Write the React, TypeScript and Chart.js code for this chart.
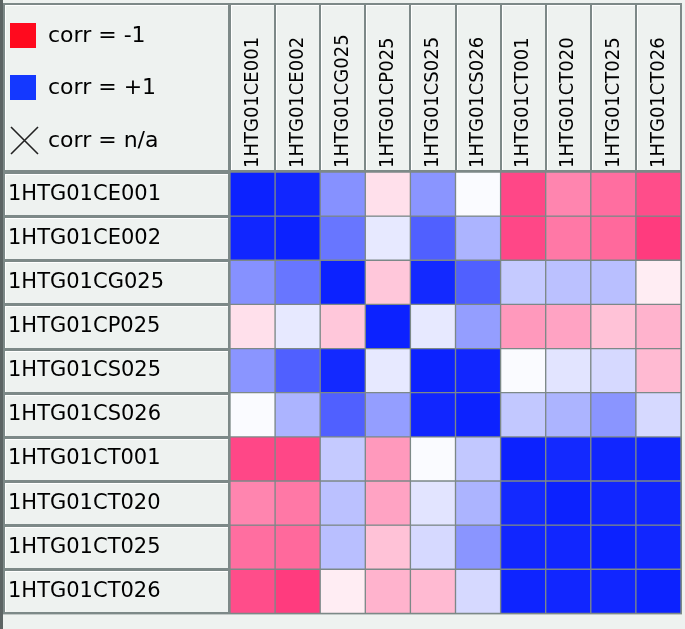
import React, { useEffect, useRef } from 'react';
import { Chart, registerables } from 'chart.js';

Chart.register(...registerables);

// ---- data ----
const variables = [
  '1HTG01CE001', '1HTG01CE002', '1HTG01CG025', '1HTG01CP025', '1HTG01CS025',
  '1HTG01CS026', '1HTG01CT001', '1HTG01CT020', '1HTG01CT025', '1HTG01CT026',
];

const corrCE001 = [1.0, 0.98, 0.5, -0.12, 0.48, 0.02, -0.72, -0.48, -0.57, -0.7];
const corrCE002 = [0.98, 1.0, 0.62, 0.1, 0.72, 0.34, -0.72, -0.53, -0.59, -0.77];
const corrCG025 = [0.5, 0.62, 1.0, -0.22, 0.97, 0.72, 0.24, 0.28, 0.29, -0.07];
const corrCP025 = [-0.12, 0.1, -0.22, 1.0, 0.1, 0.44, -0.4, -0.36, -0.24, -0.3];
const corrCS025 = [0.48, 0.72, 0.97, 0.1, 1.0, 0.98, 0.02, 0.12, 0.17, -0.27];
const corrCS026 = [0.02, 0.34, 0.72, 0.44, 0.98, 1.0, 0.25, 0.34, 0.48, 0.17];
const corrCT001 = [-0.72, -0.72, 0.24, -0.4, 0.02, 0.25, 1.0, 0.97, 0.98, 0.99];
const corrCT020 = [-0.48, -0.53, 0.28, -0.36, 0.12, 0.34, 0.97, 1.0, 0.98, 0.98];
const corrCT025 = [-0.57, -0.59, 0.29, -0.24, 0.17, 0.48, 0.98, 0.98, 1.0, 0.98];
const corrCT026 = [-0.7, -0.77, -0.07, -0.3, -0.27, 0.17, 0.99, 0.98, 0.98, 1.0];

const corrRows = [
  corrCE001, corrCE002, corrCG025, corrCP025, corrCS025,
  corrCS026, corrCT001, corrCT020, corrCT025, corrCT026,
];

const legendLabels = ['corr = -1', 'corr = +1', 'corr = n/a'];

// ---- styles ----
const LIGHT = '#eef2f0';
const GRAY = '#7d8988';
const DARK = '#5c6464';
const LEGEND_RED = '#ff0a1e';
const LEGEND_BLUE = '#1438ff';
const POS_BASE = [12, 34, 255];
const NEG_BASE = [255, 0, 88];

function corrColor(v: number): string {
  const t = Math.min(1, Math.abs(v));
  const base = v >= 0 ? POS_BASE : NEG_BASE;
  const c = base.map((b) => Math.round(255 * (1 - t) + b * t));
  return `rgb(${c[0]},${c[1]},${c[2]})`;
}

const framePlugin = {
  id: 'frame',
  beforeDraw(chart: any) {
    const { ctx, width, height, chartArea } = chart;
    const xs = chart.scales.x;
    const rs = chart.scales.rows;
    const n = variables.length;
    const cw = chartArea.width / n;
    const ch = chartArea.height / n;
    ctx.save();
    ctx.fillStyle = LIGHT;
    ctx.fillRect(0, 0, width, height);
    ctx.fillStyle = GRAY;
    ctx.fillRect(3, 3, chartArea.right - 2, chartArea.bottom - 2);
    ctx.fillStyle = DARK;
    ctx.fillRect(0, 0, 3, height);

    const box = (l: number, t: number, r: number, b: number) => {
      ctx.fillStyle = LIGHT;
      ctx.fillRect(l, t, r - l, b - t);
      ctx.fillStyle = '#ffffff';
      ctx.fillRect(l, t, r - l, 1);
      ctx.fillRect(l, t, 1, b - t);
    };
    // legend corner box
    box(5, 5, chartArea.left - 2, chartArea.top - 2);
    // column header boxes
    for (let i = 0; i < n; i++) {
      const cx = xs.getPixelForValue(i);
      box(Math.round(cx - cw / 2 + 1), 5, Math.round(cx + cw / 2 - 1), chartArea.top - 2);
    }
    // row label boxes
    for (let i = 0; i < n; i++) {
      const cy = rs.getPixelForValue(i);
      box(5, Math.round(cy - ch / 2 + 2), chartArea.left - 2, Math.round(cy + ch / 2 - 1));
    }

    // legend
    const ys = [36, 88, 141];
    ctx.fillStyle = LEGEND_RED;
    ctx.fillRect(10, ys[0] - 13, 26, 25);
    ctx.fillStyle = LEGEND_BLUE;
    ctx.fillRect(10, ys[1] - 13, 26, 25);
    ctx.strokeStyle = '#222';
    ctx.lineWidth = 1.6;
    ctx.beginPath();
    ctx.moveTo(11, ys[2] - 14);
    ctx.lineTo(38, ys[2] + 13);
    ctx.moveTo(38, ys[2] - 14);
    ctx.lineTo(11, ys[2] + 13);
    ctx.stroke();
    ctx.fillStyle = '#000';
    ctx.font = '22px "DejaVu Sans"';
    ctx.textBaseline = 'middle';
    ctx.textAlign = 'left';
    legendLabels.forEach((lab, i) => ctx.fillText(lab, 48, ys[i]));
    ctx.restore();
  },
};

export default function App() {
  const ref = useRef<HTMLCanvasElement | null>(null);

  useEffect(() => {
    document.body.style.margin = '0';
    const canvas = ref.current;
    if (!canvas) return;
    const datasets = corrRows.map((row, r) => ({
      label: variables[r],
      data: row.map(() => [r, r + 1]),
      backgroundColor: row.map((v) => corrColor(v)),
      borderColor: GRAY,
      borderWidth: 1,
      borderSkipped: false,
      grouped: false,
      categoryPercentage: 1,
      barPercentage: 1,
    }));
    const chart = new Chart(canvas, {
      type: 'bar',
      data: { labels: variables, datasets: datasets as any },
      plugins: [framePlugin],
      options: {
        responsive: false,
        animation: false,
        layout: { padding: { left: 8, right: 4, top: 0, bottom: 3 } },
        plugins: { legend: { display: false }, tooltip: { enabled: false } },
        scales: {
          x: {
            type: 'category',
            position: 'top',
            offset: true,
            grid: { display: false, drawTicks: false },
            border: { display: false },
            ticks: {
              minRotation: 90,
              maxRotation: 90,
              autoSkip: false,
              padding: 4,
              labelOffset: 24,
              color: '#000',
              font: { family: '"DejaVu Sans Condensed", "Liberation Sans Narrow", sans-serif', size: 20 },
            },
            afterFit: (s: any) => { s.height = 172; },
          },
          y: { type: 'linear', display: false, min: 0, max: 10, reverse: true },
          rows: {
            type: 'category',
            axis: 'y',
            position: 'left',
            labels: variables,
            offset: true,
            grid: { display: false, drawTicks: false },
            border: { display: false },
            ticks: {
              crossAlign: 'far',
              autoSkip: false,
              color: '#000',
              font: { family: '"DejaVu Sans", sans-serif', size: 21 },
            },
            afterFit: (s: any) => { s.width = 222; },
          },
        } as any,
      },
    });
    return () => chart.destroy();
  }, []);

  return (
    <div style={{ width: 685, height: 629 }}>
      <canvas ref={ref} width={685} height={629} style={{ display: 'block' }} />
    </div>
  );
}
